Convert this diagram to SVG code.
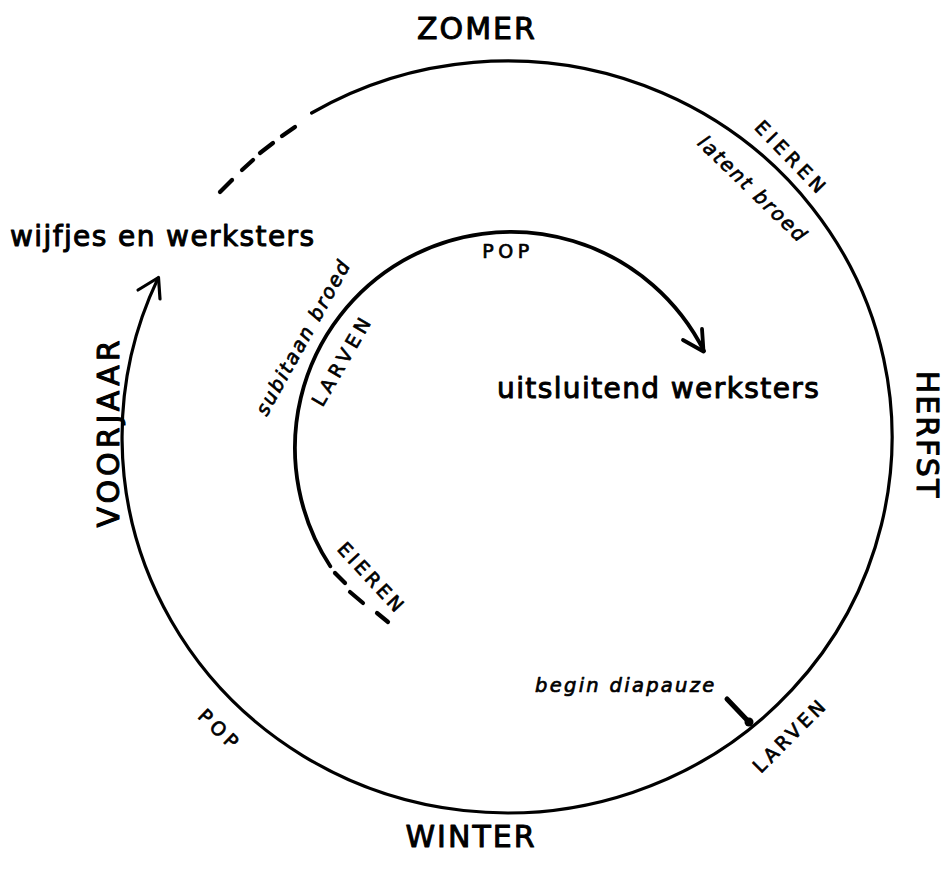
<svg xmlns="http://www.w3.org/2000/svg" width="945" height="876" viewBox="0 0 945 876">
<style>
.ln{fill:none;stroke:#000;stroke-width:3.2;stroke-linecap:round;stroke-linejoin:round}
.in{stroke-width:3.8}
.ds{fill:none;stroke:#000;stroke-width:4.2;stroke-linecap:round}
text{font-family:"DejaVu Sans","Liberation Sans",sans-serif;fill:#000;stroke:#000;stroke-linejoin:round}
.big{font-size:30px;letter-spacing:2px;stroke-width:1}
.mid{font-size:28px;letter-spacing:1.4px;stroke-width:1}
.cap{font-size:19px;letter-spacing:4.5px;stroke-width:0.7}
.it{font-size:19.5px;font-style:italic;letter-spacing:2px;stroke-width:0.7}
</style>
<rect width="945" height="876" fill="#fff"/>
<g id="connectors">
  <path class="ln" d="M311.6,113 A385,376 0 1 1 158.1,278.1"/>
  <polyline class="ln" points="138,290 158.5,277.5 160,299"/>
  <g id="outer-dashes">
    <line class="ds" x1="220" y1="192" x2="232" y2="180"/>
    <line class="ds" x1="242" y1="170" x2="253" y2="160"/>
    <line class="ds" x1="260" y1="153" x2="273" y2="143"/>
    <line class="ds" x1="282" y1="136" x2="295" y2="127"/>
  </g>
  <path class="ln in" d="M330.3,566.3 A216,216 0 1 1 704,351"/>
  <polyline class="ln in" points="683,340 703.5,351.5 702,329"/>
  <g id="inner-dashes">
    <line class="ds" x1="335" y1="573" x2="345" y2="583"/>
    <line class="ds" x1="350" y1="592" x2="363" y2="603"/>
    <line class="ds" x1="377" y1="613" x2="388" y2="622"/>
  </g>
  <g id="diapauze-marker">
    <line x1="727" y1="699" x2="748" y2="721" stroke="#000" stroke-width="5" stroke-linecap="round"/>
    <circle cx="749" cy="722" r="4.5" fill="#000"/>
  </g>
</g>
<g id="zomer"><text class="big" x="477" y="39" text-anchor="middle">ZOMER</text></g>
<g id="winter"><text class="big" x="471" y="847" text-anchor="middle">WINTER</text></g>
<g id="herfst"><text class="big" transform="translate(928,435) rotate(90)" x="0" y="11" text-anchor="middle">HERFST</text></g>
<g id="voorjaar"><text class="big" transform="translate(108,432) rotate(-90)" x="0" y="11" text-anchor="middle" style="letter-spacing:4px">VOORJAAR</text></g>
<g id="wijfjes"><text class="mid" x="10" y="246">wijfjes en werksters</text></g>
<g id="uitsluitend"><text class="mid" x="497" y="398">uitsluitend werksters</text></g>
<g id="pop-inner"><text class="cap" x="508" y="258" text-anchor="middle">POP</text></g>
<g id="eieren-outer"><text class="cap" transform="translate(792,158) rotate(46)" x="0" y="7" text-anchor="middle">EIEREN</text></g>
<g id="latent-broed"><text class="it" transform="translate(753,189) rotate(44)" x="0" y="7" text-anchor="middle">latent broed</text></g>
<g id="subitaan-broed"><text class="it" transform="translate(303,337) rotate(-61)" x="0" y="7" text-anchor="middle">subitaan broed</text></g>
<g id="larven-inner"><text class="cap" transform="translate(342,360) rotate(-60)" x="0" y="7" text-anchor="middle">LARVEN</text></g>
<g id="eieren-inner"><text class="cap" transform="translate(372,578) rotate(47)" x="0" y="7" text-anchor="middle" style="letter-spacing:3.5px">EIEREN</text></g>
<g id="begin-diapauze"><text class="it" x="535" y="692" style="letter-spacing:2.3px">begin diapauze</text></g>
<g id="larven-outer"><text class="cap" transform="translate(790,735) rotate(-45)" x="0" y="7" text-anchor="middle" style="letter-spacing:3.5px">LARVEN</text></g>
<g id="pop-outer"><text class="cap" transform="translate(220,730) rotate(44)" x="0" y="7" text-anchor="middle">POP</text></g>
</svg>
